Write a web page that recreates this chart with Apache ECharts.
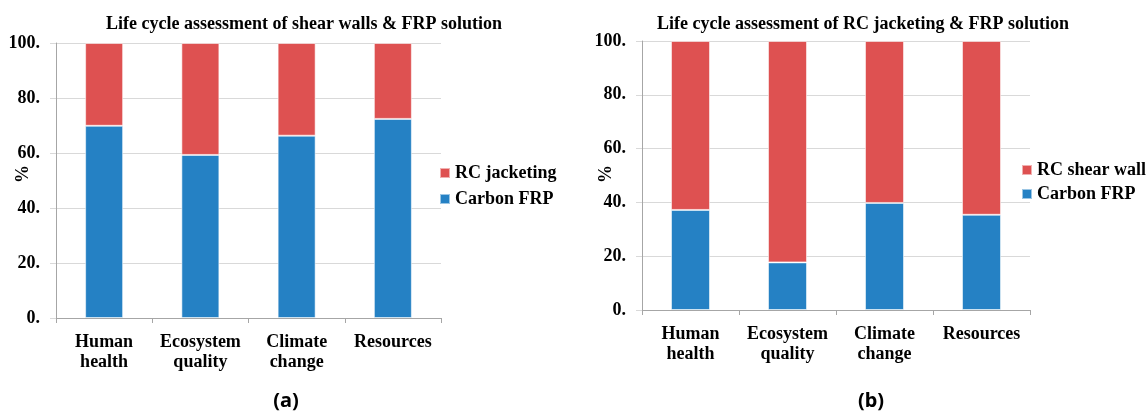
<!DOCTYPE html>
<html>
<head>
<meta charset="utf-8">
<style>html,body{margin:0;padding:0;background:#fff;}#c{width:1148px;height:416px;}</style>
<script src="https://cdn.jsdelivr.net/npm/echarts@6/dist/echarts.min.js"></script>
</head>
<body>
<div id="c"></div>
<script>
const categories = ['Human\nhealth', 'Ecosystem\nquality', 'Climate\nchange', 'Resources'];
const yTickLabels = ['0.', '20.', '40.', '60.', '80.', '100.'];
// (a) shear walls & FRP
const carbonA = [69.9, 59.3, 66.3, 72.4];
const rcJacketing = [30.1, 40.7, 33.7, 27.6];
// (b) RC jacketing & FRP
const carbonB = [37.2, 17.7, 39.8, 35.4];
const rcShearWall = [62.8, 82.3, 60.2, 64.6];

const titleA = 'Life cycle assessment of shear walls & FRP solution';
const titleB = 'Life cycle assessment of RC jacketing & FRP solution';

const BLUE = '#2581c4', RED = '#de5151';
const FONT = '"Liberation Serif", "Times New Roman", serif';

function xAxis(gi) {
  return {
    type: 'category', gridIndex: gi, data: categories,
    axisLine: {lineStyle: {color: '#a6a6a6', width: 1}},
    axisTick: {show: true, length: 5, lineStyle: {color: '#a6a6a6'}},
    axisLabel: {fontFamily: FONT, fontWeight: 'bold', fontSize: 18, color: '#000', lineHeight: 20, margin: 14, interval: 0}
  };
}
function yAxis(gi) {
  return {
    type: 'value', gridIndex: gi, min: 0, max: 100, interval: 20,
    axisLine: {show: true, lineStyle: {color: '#a6a6a6'}},
    axisTick: {show: true, length: 6, lineStyle: {color: '#d9d9d9'}},
    splitLine: {lineStyle: {color: '#d9d9d9', width: 1}},
    axisLabel: {fontFamily: FONT, fontWeight: 'bold', fontSize: 18, color: '#000', margin: 16,
      formatter: v => yTickLabels[Math.round(v / 20)]}
  };
}
function bar(name, data, gi, stack, color, w) {
  return {
    name, type: 'bar', stack, xAxisIndex: gi, yAxisIndex: gi, data, barWidth: w,
    itemStyle: {color, borderColor: 'rgba(255,255,255,0.55)', borderWidth: 1},
    emphasis: {disabled: true}
  };
}
const legendText = {fontFamily: FONT, fontWeight: 'bold', fontSize: 18, color: '#000', lineHeight: 18};
const capRich = {p: {fontFamily: '"Noto Sans"', fontSize: 20, color: '#000'},
                 b: {fontFamily: '"Noto Sans"', fontSize: 20, fontWeight: 'bold', color: '#000'}};

const chart = echarts.init(document.getElementById('c'), null, {renderer: 'canvas'});
chart.setOption({
  animation: false,
  backgroundColor: '#fff',
  title: [
    {text: titleA, left: 299, top: 10, textAlign: 'center',
     textStyle: {fontFamily: FONT, fontWeight: 'bold', fontSize: 18, color: '#000'}},
    {text: titleB, left: 858, top: 10, textAlign: 'center',
     textStyle: {fontFamily: FONT, fontWeight: 'bold', fontSize: 18, color: '#000'}},
    {text: '{p|(}{b|a}{p|)}', left: 281, top: 386, textAlign: 'center', textStyle: {rich: capRich}},
    {text: '{p|(}{b|b}{p|)}', left: 866, top: 386, textAlign: 'center', textStyle: {rich: capRich}}
  ],
  grid: [
    {left: 56, top: 43, width: 385, height: 275},
    {left: 642, top: 41, width: 388, height: 269}
  ],
  xAxis: [xAxis(0), xAxis(1)],
  yAxis: [yAxis(0), yAxis(1)],
  legend: [
    {orient: 'vertical', left: 439, top: 164, itemWidth: 10, itemHeight: 10, itemGap: 8,
     icon: 'rect', selectedMode: false, data: ['RC jacketing', 'Carbon FRP'], textStyle: legendText,
     padding: 0},
    {orient: 'vertical', left: 1021, top: 161, itemWidth: 10, itemHeight: 10, itemGap: 6,
     icon: 'rect', selectedMode: false, data: ['RC shear wall', 'Carbon FRP'], textStyle: legendText,
     padding: 0}
  ],
  graphic: [
    {type: 'text', left: 14, top: 165, rotation: Math.PI / 2,
     style: {text: '%', font: 'bold 18px ' + FONT, fill: '#000'}},
    {type: 'text', left: 597, top: 165, rotation: Math.PI / 2,
     style: {text: '%', font: 'bold 18px ' + FONT, fill: '#000'}}
  ],
  series: [
    bar('Carbon FRP', carbonA, 0, 'a', BLUE, 38),
    bar('RC jacketing', rcJacketing, 0, 'a', RED, 38),
    bar('Carbon FRP', carbonB, 1, 'b', BLUE, 39),
    bar('RC shear wall', rcShearWall, 1, 'b', RED, 39)
  ]
});
</script>
</body>
</html>
